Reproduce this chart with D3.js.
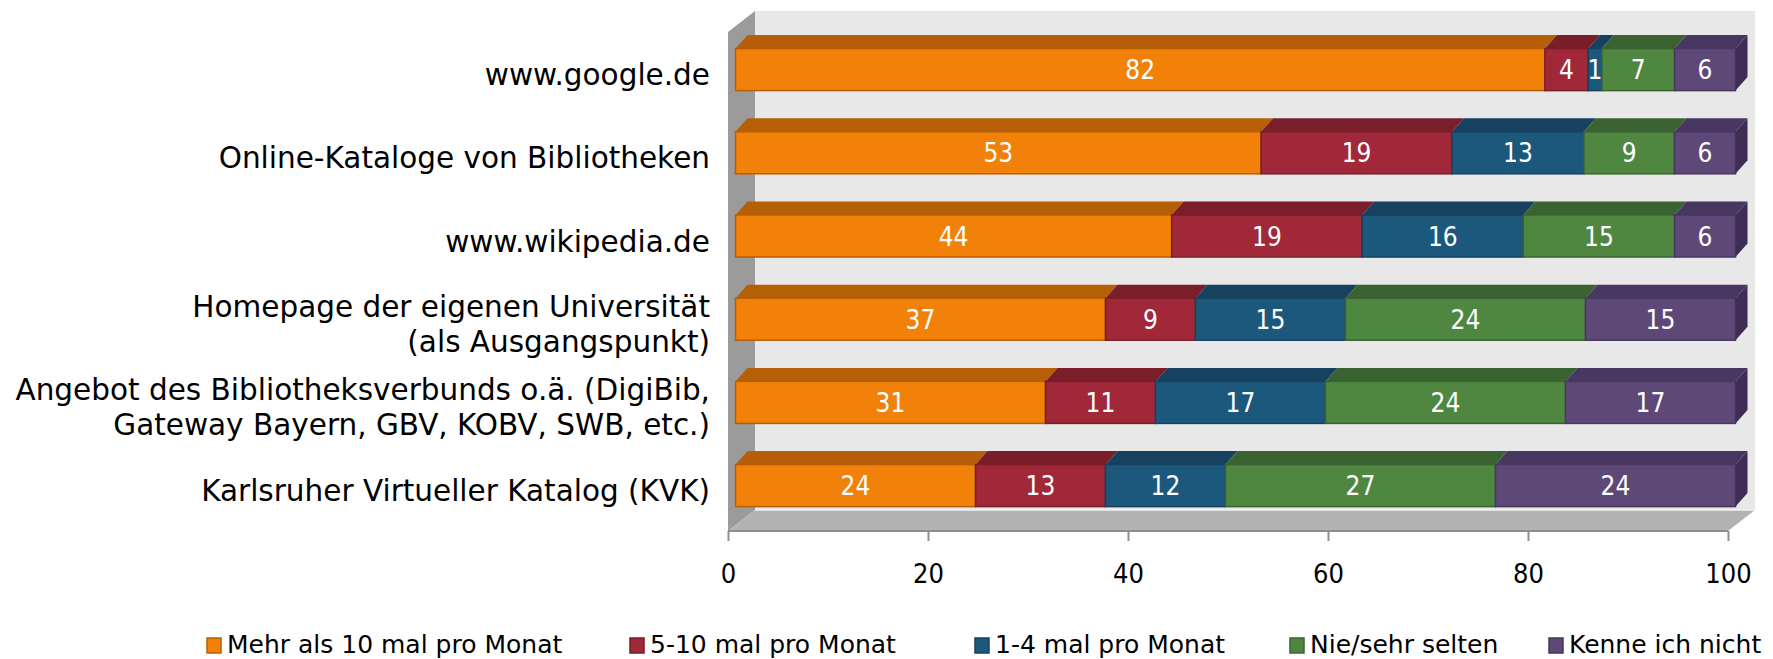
<!DOCTYPE html>
<html>
<head>
<meta charset="utf-8">
<script src="https://cdn.jsdelivr.net/npm/d3@7"></script>
<style>
  body { margin: 0; background: #fff; }
</style>
</head>
<body>
<div class="container"></div>
<script>
// categories top to bottom
const categories = [
    "www.google.de",
    "Online-Kataloge von Bibliotheken",
    "www.wikipedia.de",
    "Homepage der eigenen Universität\n(als Ausgangspunkt)",
    "Angebot des Bibliotheksverbunds o.ä. (DigiBib,\nGateway Bayern, GBV, KOBV, SWB, etc.)",
    "Karlsruher Virtueller Katalog (KVK)"
]
const seriesNames = ["Mehr als 10 mal pro Monat", "5-10 mal pro Monat", "1-4 mal pro Monat", "Nie/sehr selten", "Kenne ich nicht"]

// answers in percent (chart is 100% stacked, some rows add up to a bit more than 100)
const mehrAls10 = [82.4, 53.4, 44.4, 37, 31, 24]
const fuenfBis10 = [4.4, 19.4, 19.4, 9, 11, 13]
const einsBis4 = [1.4, 13.4, 16.4, 15, 17, 12]
const nieSelten = [7.4, 9.2, 15.4, 24, 24, 27]
const kenneNicht = [6.2, 6.2, 6.2, 15, 17, 24]

const xTicks = [0, 20, 40, 60, 80, 100]

const frontColors = ["#f2810a", "#a02838", "#1c587b", "#4f8741", "#5e4878"]
const topColors = ["#b65f06", "#7a1e2a", "#164260", "#3b6332", "#483760"]
const capColor = "#3f2d55"

document.addEventListener('DOMContentLoaded', function(){

    const width = 1773
    const height = 659
    const font = "'DejaVu Sans', Verdana, sans-serif"
    const fontCond = "'DejaVu Sans Condensed', 'DejaVu Sans', sans-serif"

    const svg = d3.select(".container")
        .append("svg")
        .attr("width", width)
        .attr("height", height)
        .style("background", "#fff")

    const series = [mehrAls10, fuenfBis10, einsBis4, nieSelten, kenneNicht]
    const rows = categories.map((c, i) => {
        const row = {category: c}
        seriesNames.forEach((s, j) => row[s] = series[j][i])
        return row
    })
    const stacked = d3.stack().keys(seriesNames).offset(d3.stackOffsetExpand)(rows)

    // front plane of the bars and of the floor
    const x = d3.scaleLinear().domain([0, 1]).range([735.5, 1735.5])
    const xAxis = d3.scaleLinear().domain([0, 100]).range([728, 1728])
    const y = d3.scaleBand().domain(categories)
        .range([28, 527.2])
        .paddingInner(0.495)
        .paddingOuter(0.2475)

    const bar = {dx: 12, dy: -13.5}
    const wall = {dx: 27, dy: -21}
    const front = {left: xAxis(0), right: xAxis(100), top: 32, bottom: 531}

    const pts = a => a.map(p => p.join(",")).join(" ")

    // walls and floor
    svg.append("polygon")
        .attr("points", pts([[front.left, front.top], [front.left + wall.dx, front.top + wall.dy],
            [front.left + wall.dx, front.bottom + wall.dy], [front.left, front.bottom]]))
        .attr("fill", "#9b9b9b")
    svg.append("polygon")
        .attr("points", pts([[front.left + wall.dx, front.top + wall.dy], [front.right + wall.dx, front.top + wall.dy],
            [front.right + wall.dx, front.bottom + wall.dy], [front.left + wall.dx, front.bottom + wall.dy]]))
        .attr("fill", "#e8e8e8")
    svg.append("polygon")
        .attr("points", pts([[front.left + wall.dx, front.bottom + wall.dy], [front.right + wall.dx, front.bottom + wall.dy],
            [front.right, front.bottom], [front.left, front.bottom]]))
        .attr("fill", "#b3b3b3")
    svg.append("line")
        .attr("x1", front.left + wall.dx).attr("x2", front.right + wall.dx)
        .attr("y1", front.bottom + wall.dy).attr("y2", front.bottom + wall.dy)
        .attr("stroke", "#f2f2f2").attr("stroke-width", 1.5)
    svg.append("line")
        .attr("x1", front.left).attr("x2", front.right)
        .attr("y1", front.bottom).attr("y2", front.bottom)
        .attr("stroke", "#8e8e8e").attr("stroke-width", 2)

    // x axis
    const axis = svg.append("g")
        .attr("transform", `translate(0,${front.bottom})`)
        .call(d3.axisBottom(xAxis).tickValues(xTicks).tickSize(10).tickPadding(23))
    axis.select(".domain").remove()
    axis.attr("font-family", fontCond).attr("font-size", 27)
    axis.selectAll("line").attr("stroke", "#8e8e8e").attr("stroke-width", 2)
    axis.selectAll("text").attr("fill", "#000")

    // bars
    const layer = svg.selectAll(".layer")
        .data(stacked)
        .enter().append("g")
        .attr("class", "layer")

    layer.selectAll(".top")
        .data((d, i) => d.map(v => ({v, i})))
        .enter().append("polygon")
        .attr("class", "top")
        .attr("points", d => {
            const y0 = y(d.v.data.category), x0 = x(d.v[0]), x1 = x(d.v[1])
            return pts([[x0, y0], [x1, y0], [x1 + bar.dx, y0 + bar.dy], [x0 + bar.dx, y0 + bar.dy]])
        })
        .attr("fill", d => topColors[d.i])

    layer.selectAll(".front")
        .data((d, i) => d.map(v => ({v, i})))
        .enter().append("rect")
        .attr("class", "front")
        .attr("x", d => x(d.v[0]))
        .attr("y", d => y(d.v.data.category))
        .attr("width", d => x(d.v[1]) - x(d.v[0]))
        .attr("height", y.bandwidth())
        .attr("fill", d => frontColors[d.i])
        .attr("stroke", d => topColors[d.i])
        .attr("stroke-width", 1.5)

    // right end caps
    svg.selectAll(".cap")
        .data(stacked[stacked.length - 1])
        .enter().append("polygon")
        .attr("class", "cap")
        .attr("points", d => {
            const y0 = y(d.data.category), y1 = y0 + y.bandwidth(), x1 = x(d[1])
            return pts([[x1, y0], [x1 + bar.dx, y0 + bar.dy], [x1 + bar.dx, y1 + bar.dy], [x1, y1]])
        })
        .attr("fill", capColor)

    // value labels
    layer.selectAll(".val")
        .data((d, i) => d.map(v => ({v, key: d.key})))
        .enter().append("text")
        .attr("class", "val")
        .attr("x", d => (x(d.v[0]) + x(d.v[1])) / 2)
        .attr("y", d => y(d.v.data.category) + y.bandwidth() / 2 + 9.5)
        .attr("text-anchor", "middle")
        .attr("font-family", fontCond)
        .attr("font-size", 26)
        .attr("fill", "#fff")
        .text(d => d3.format(".0f")(d.v.data[d.key]))

    // category labels
    svg.append("g").selectAll("text")
        .data(categories)
        .enter().append("text")
        .attr("text-anchor", "end")
        .attr("font-family", font)
        .attr("font-size", 29.5)
        .attr("fill", "#000")
        .each(function(d) {
            const lines = d.split("\n")
            const cy = y(d) + y.bandwidth() / 2 + 5
            lines.forEach((l, i) => {
                d3.select(this).append("tspan")
                    .attr("x", 710)
                    .attr("y", cy + 10.5 + (i - (lines.length - 1) / 2) * 35)
                    .text(l)
            })
        })

    // legend
    const legendX = [207, 630, 975, 1290, 1549]
    const legend = svg.append("g").selectAll("g")
        .data(seriesNames)
        .enter().append("g")
        .attr("transform", (d, i) => `translate(${legendX[i]},638)`)
    legend.append("rect")
        .attr("width", 14).attr("height", 15)
        .attr("fill", (d, i) => frontColors[i])
        .attr("stroke", (d, i) => topColors[i])
        .attr("stroke-width", 1.5)
    legend.append("text")
        .attr("x", 20).attr("y", 15)
        .attr("font-family", font)
        .attr("font-size", 25)
        .attr("fill", "#000")
        .text(d => d)
});
</script>
</body>
</html>
